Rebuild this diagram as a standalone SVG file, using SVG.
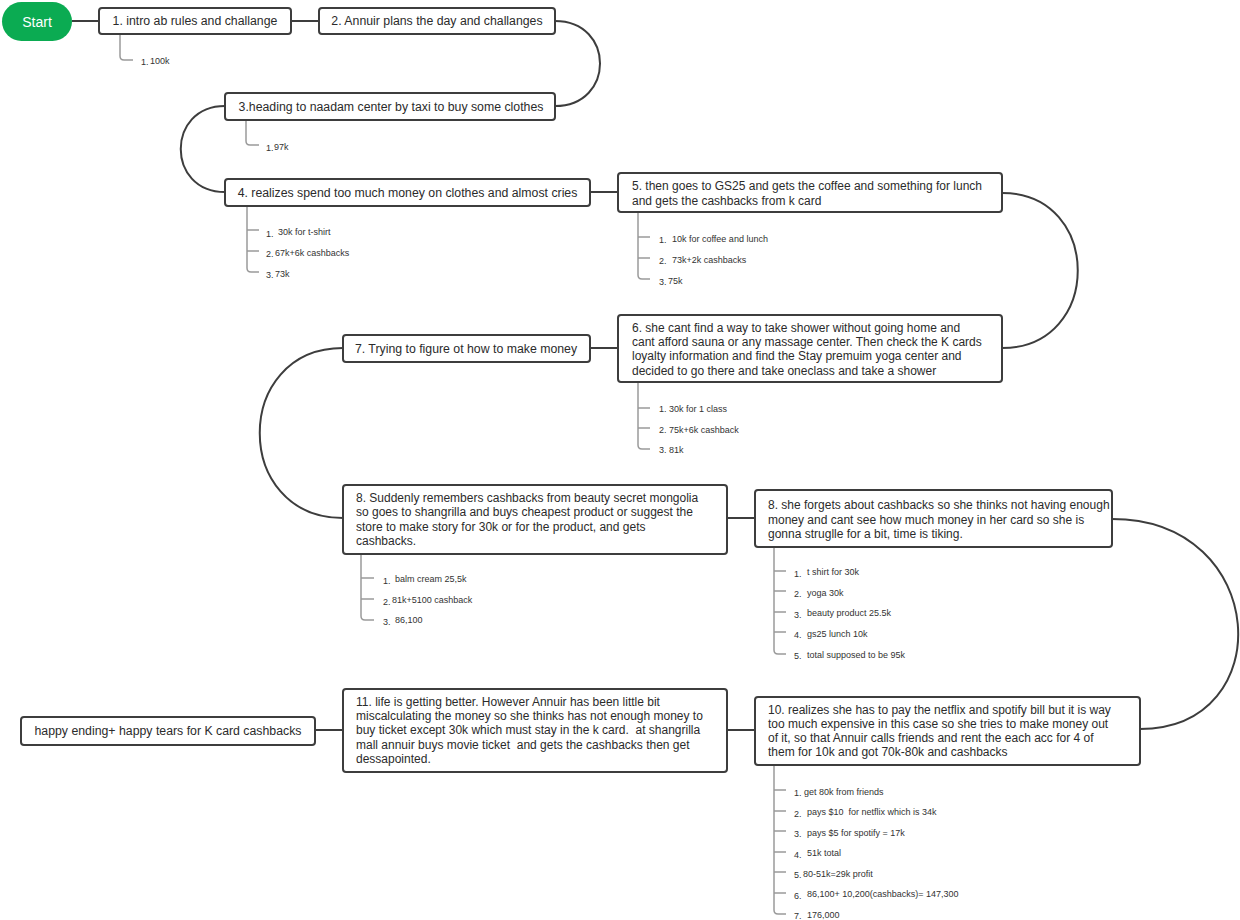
<svg xmlns="http://www.w3.org/2000/svg" width="1240" height="920" viewBox="0 0 1240 920">
<style>
.box{fill:#fff;stroke:#3d3d3d;stroke-width:2}
.t{font-family:"Liberation Sans",Arial,sans-serif;font-size:12px;fill:#2b2b2b;dominant-baseline:central;white-space:pre}
.c{text-anchor:middle;font-size:12.3px}
.it{font-family:"Liberation Sans",Arial,sans-serif;font-size:9px;fill:#333;dominant-baseline:central;white-space:pre}
.br{fill:none;stroke:#9a9a9a;stroke-width:1.5}
.con{fill:none;stroke:#3d3d3d;stroke-width:2}
</style>
<rect width="1240" height="920" fill="#fff"/>
<g id="connectors">
<path class="con" d="M72,21 H99"/>
<path class="con" d="M291,21 H319"/>
<path class="con" d="M555,21 C615,21 615,106 555,106"/>
<path class="con" d="M225,106 C166,106 166,192 225,192"/>
<path class="con" d="M590,192 H618"/>
<path class="con" d="M1002,193 C1103,193 1103,348 1002,348"/>
<path class="con" d="M618,348 H590"/>
<path class="con" d="M343,348 C232,348 232,518 343,518"/>
<path class="con" d="M727,518 H755"/>
<path class="con" d="M1112,519 C1270,519 1280,729 1140,729"/>
<path class="con" d="M755,730 H727"/>
<path class="con" d="M343,730 H315"/>
</g>
<g id="start">
<rect x="2" y="2" width="70" height="39" rx="19.5" fill="#0bab52"/>
<text x="37" y="21.5" class="t c" style="fill:#fff;font-size:14px">Start</text>
</g>
<g id="n1">
<rect class="box" x="99" y="8" width="192" height="26" rx="3"/>
<text class="t c" x="195" y="21">1. intro ab rules and challange</text>
<path class="br" d="M120,35 V56 Q120,60 124,60 H133"/>
<text class="it" x="141" y="62">1.</text><text class="it" x="150" y="60.5">100k</text>
</g>
<g id="n2">
<rect class="box" x="319" y="8" width="236" height="26" rx="3"/>
<text class="t c" x="437" y="21">2. Annuir plans the day and challanges</text>
</g>
<g id="n3">
<rect class="box" x="225" y="93" width="330" height="27" rx="3"/>
<text class="t c" x="391" y="106.5">3.heading to naadam center by taxi to buy some clothes</text>
<path class="br" d="M246,121 V141 Q246,145 250,145 H259"/>
<text class="it" x="266" y="148">1.</text><text class="it" x="274" y="146.5">97k</text>
</g>
<g id="n4">
<rect class="box" x="225" y="179" width="365" height="27" rx="3"/>
<text class="t c" x="407.5" y="192.5">4. realizes spend too much money on clothes and almost cries</text>
<path class="br" d="M247,207 V268 Q247,272 251,272 H259 M247,230 H259 M247,251 H259"/>
<text class="it" x="266" y="234">1.</text><text class="it" x="278" y="231.5">30k for t-shirt</text>
<text class="it" x="266" y="254">2.</text><text class="it" x="275" y="252.5">67k+6k cashbacks</text>
<text class="it" x="266" y="275">3.</text><text class="it" x="275" y="273.5">73k</text>
</g>
<g id="n5">
<rect class="box" x="618" y="173" width="384" height="39" rx="3"/>
<text class="t" x="632" y="185.5">5. then goes to GS25 and gets the coffee and something for lunch</text>
<text class="t" x="632" y="200.5">and gets the cashbacks from k card</text>
<path class="br" d="M638,213 V275 Q638,279 642,279 H650 M638,237 H650 M638,258 H650"/>
<text class="it" x="659" y="240">1.</text><text class="it" x="672" y="238.5">10k for coffee and lunch</text>
<text class="it" x="659" y="261">2.</text><text class="it" x="672" y="259.5">73k+2k cashbacks</text>
<text class="it" x="659" y="282">3.</text><text class="it" x="668" y="280.5">75k</text>
</g>
<g id="n6">
<rect class="box" x="618" y="315" width="384" height="67" rx="3"/>
<text class="t" x="632" y="327.5">6. she cant find a way to take shower without going home and</text>
<text class="t" x="632" y="341.5">cant afford sauna or any massage center. Then check the K cards</text>
<text class="t" x="632" y="355.5">loyalty information and find the Stay premuim yoga center and</text>
<text class="t" x="632" y="370.5">decided to go there and take oneclass and take a shower</text>
<path class="br" d="M638,383 V445 Q638,449 642,449 H650 M638,408 H650 M638,428 H650"/>
<text class="it" x="659" y="409">1. 30k for 1 class</text>
<text class="it" x="659" y="429.5">2. 75k+6k cashback</text>
<text class="it" x="659" y="450">3. 81k</text>
</g>
<g id="n7">
<rect class="box" x="343" y="335" width="247" height="27" rx="3"/>
<text class="t c" x="466" y="348.5">7. Trying to figure ot how to make money</text>
</g>
<g id="n8a">
<rect class="box" x="343" y="485" width="384" height="69" rx="3"/>
<text class="t" x="356" y="497.5">8. Suddenly remembers cashbacks from beauty secret mongolia</text>
<text class="t" x="356" y="512">so goes to shangrilla and buys cheapest product or suggest the</text>
<text class="t" x="356" y="526.5">store to make story for 30k or for the product, and gets</text>
<text class="t" x="356" y="540.5">cashbacks.</text>
<path class="br" d="M361,555 V616 Q361,620 365,620 H374 M361,578 H374 M361,599 H374"/>
<text class="it" x="383" y="581">1.</text><text class="it" x="395" y="579">balm cream 25,5k</text>
<text class="it" x="383" y="602">2.</text><text class="it" x="392" y="600">81k+5100 cashback</text>
<text class="it" x="383" y="622">3.</text><text class="it" x="395" y="620">86,100</text>
</g>
<g id="n8b">
<rect class="box" x="755" y="490" width="357" height="57" rx="3"/>
<text class="t" x="768" y="505">8. she forgets about cashbacks so she thinks not having enough</text>
<text class="t" x="768" y="519.5">money and cant see how much money in her card so she is</text>
<text class="t" x="768" y="533.5">gonna struglle for a bit, time is tiking.</text>
<path class="br" d="M774,548 V650 Q774,654 778,654 H786 M774,571 H786 M774,591 H786 M774,612 H786 M774,632 H786"/>
<text class="it" x="794" y="573.5">1.</text><text class="it" x="807" y="572">t shirt for 30k</text>
<text class="it" x="794" y="594">2.</text><text class="it" x="807" y="592.5">yoga 30k</text>
<text class="it" x="794" y="614.5">3.</text><text class="it" x="807" y="613">beauty product 25.5k</text>
<text class="it" x="794" y="635">4.</text><text class="it" x="807" y="633.5">gs25 lunch 10k</text>
<text class="it" x="794" y="656">5.</text><text class="it" x="807" y="654.5">total supposed to be 95k</text>
</g>
<g id="n10">
<rect class="box" x="755" y="697" width="385" height="68" rx="3"/>
<text class="t" x="768" y="709.5">10. realizes she has to pay the netflix and spotify bill but it is way</text>
<text class="t" x="768" y="723.5">too much expensive in this case so she tries to make money out</text>
<text class="t" x="768" y="737.5">of it, so that Annuir calls friends and rent the each acc for 4 of</text>
<text class="t" x="768" y="751.5">them for 10k and got 70k-80k and cashbacks</text>
<path class="br" d="M774,766 V910 Q774,914 778,914 H786 M774,790 H786 M774,811 H786 M774,831 H786 M774,852 H786 M774,872 H786 M774,893 H786"/>
<text class="it" x="794" y="793">1.</text><text class="it" x="804" y="791.5">get 80k from friends</text>
<text class="it" x="794" y="813.5">2.</text><text class="it" x="807" y="812">pays $10  for netflix which is 34k</text>
<text class="it" x="794" y="834">3.</text><text class="it" x="807" y="832.5">pays $5 for spotify = 17k</text>
<text class="it" x="794" y="854.5">4.</text><text class="it" x="807" y="853">51k total</text>
<text class="it" x="794" y="875">5.</text><text class="it" x="803" y="873.5">80-51k=29k profit</text>
<text class="it" x="794" y="895.5">6.</text><text class="it" x="807" y="894">86,100+ 10,200(cashbacks)= 147,300</text>
<text class="it" x="794" y="916">7.</text><text class="it" x="807" y="914.5">176,000</text>
</g>
<g id="n11">
<rect class="box" x="343" y="689" width="384" height="83" rx="3"/>
<text class="t" x="356" y="702">11. life is getting better. However Annuir has been little bit</text>
<text class="t" x="356" y="716">miscalculating the money so she thinks has not enough money to</text>
<text class="t" x="356" y="730">buy ticket except 30k which must stay in the k card.  at shangrilla</text>
<text class="t" x="356" y="745">mall annuir buys movie ticket  and gets the cashbacks then get</text>
<text class="t" x="356" y="759">dessapointed.</text>
</g>
<g id="end">
<rect class="box" x="21" y="717" width="294" height="28" rx="3"/>
<text class="t c" x="168" y="731">happy ending+ happy tears for K card cashbacks</text>
</g>
</svg>
